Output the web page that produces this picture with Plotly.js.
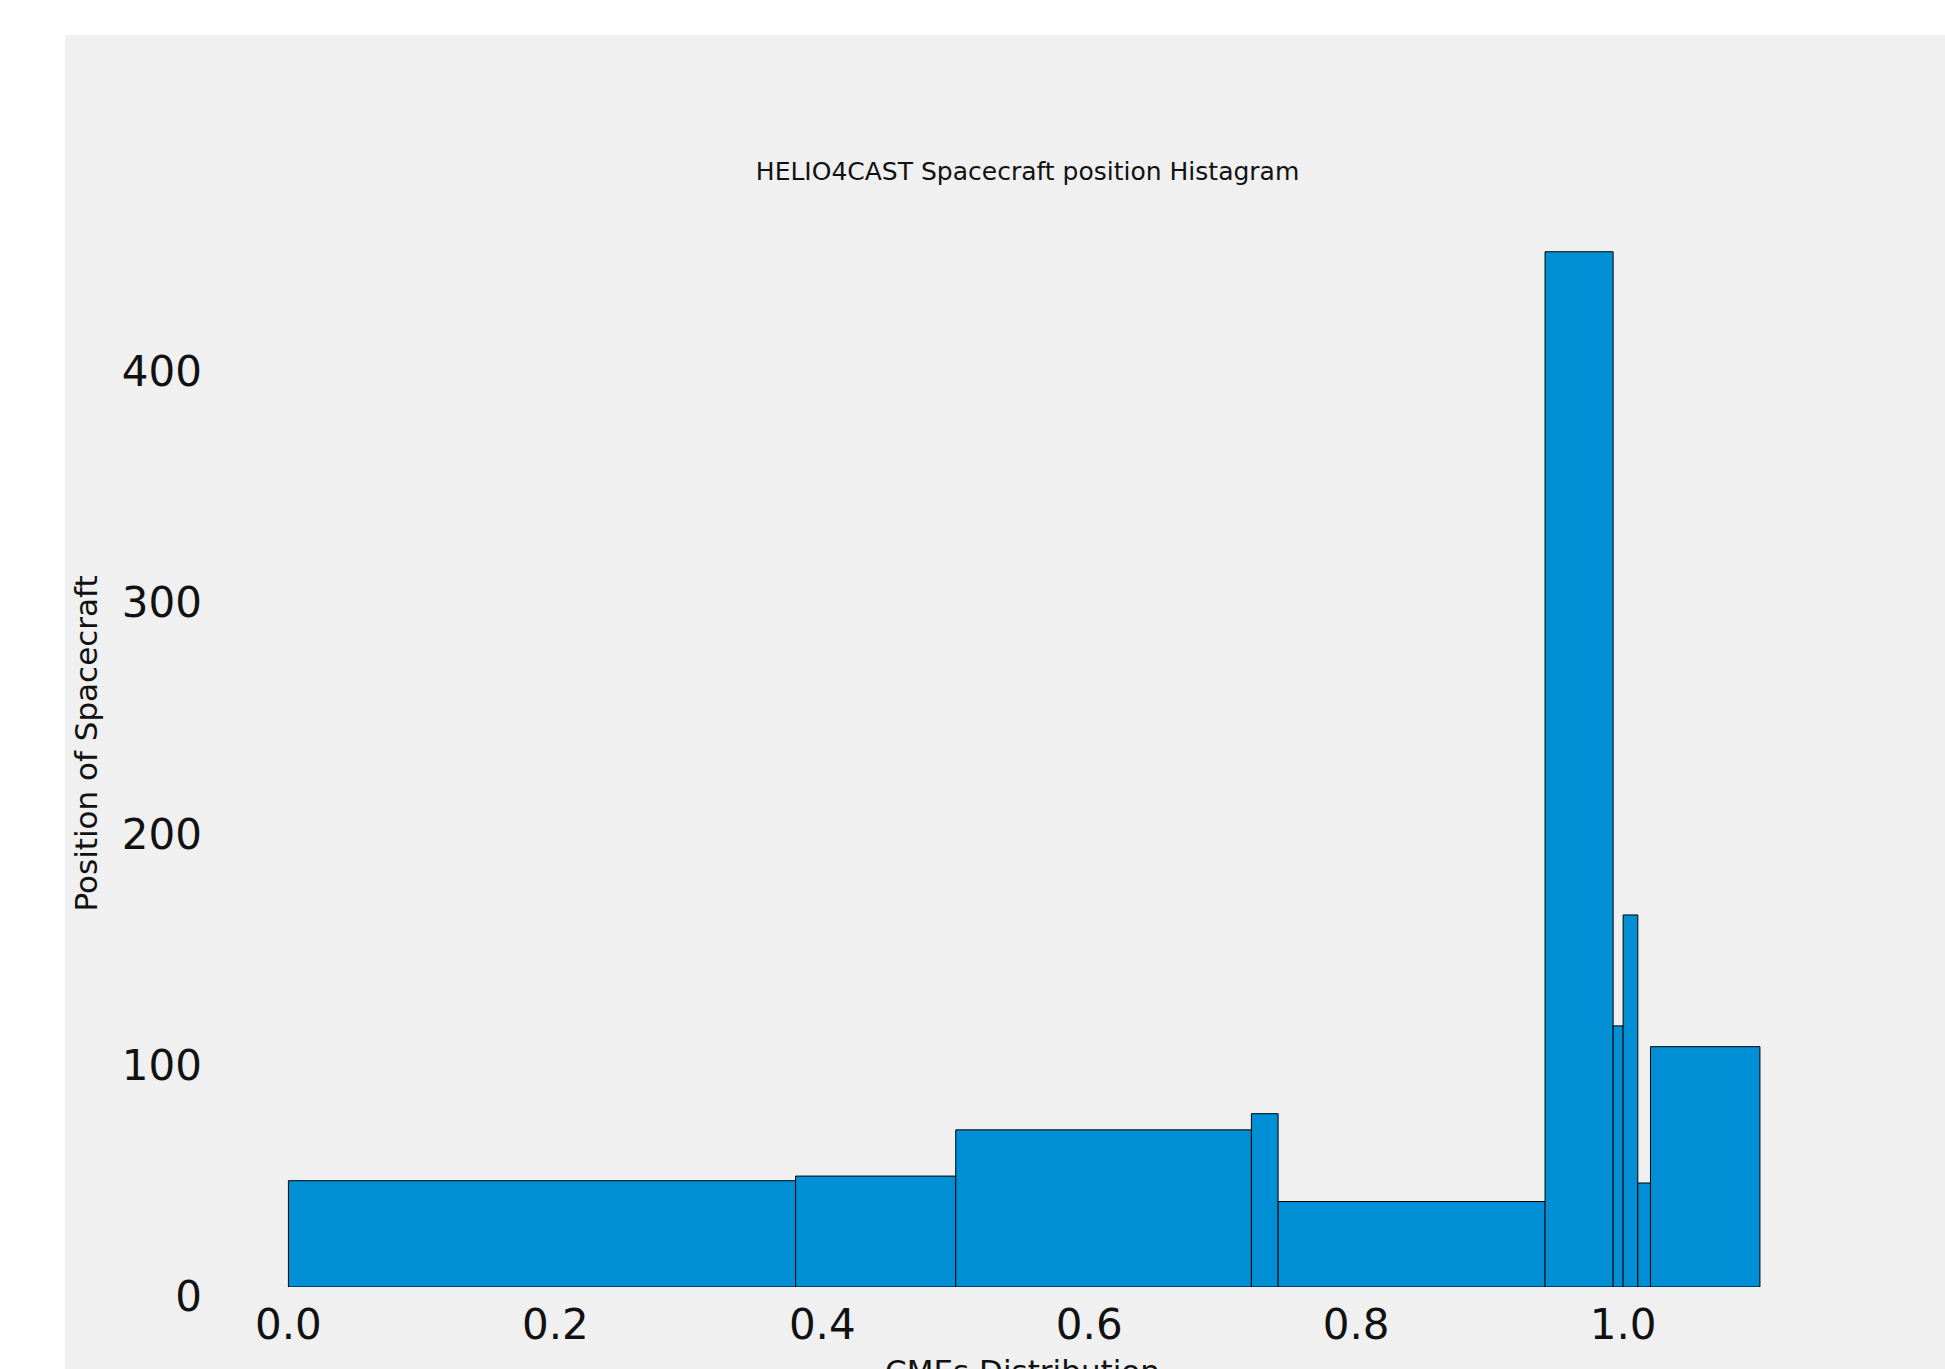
<!DOCTYPE html>
<html>
<head>
<meta charset="utf-8">
<script src="https://cdn.plot.ly/plotly-3.0.1.min.js"></script>
<style>
  html, body { margin: 0; padding: 0; background: #ffffff; overflow: hidden; width: 1945px; height: 1369px; }
  #chart { position: absolute; left: 65px; top: 35px; width: 1880px; height: 1400px; }
</style>
</head>
<body>
<div id="chart"></div>
<script>
// Histogram bin edges (CMEs distribution) and counts per bin
const binEdges = [0, 0.38, 0.5, 0.7215, 0.7415, 0.9415, 0.9925, 1.0, 1.011, 1.0205, 1.1025];
const binCounts = [46, 48, 68, 75, 37, 448, 113, 161, 45, 104];
const xTickVals = [0.0, 0.2, 0.4, 0.6, 0.8, 1.0];
const yTickVals = [0, 100, 200, 300, 400];

const centers = binCounts.map((_, i) => (binEdges[i] + binEdges[i + 1]) / 2);
const widths = binCounts.map((_, i) => binEdges[i + 1] - binEdges[i]);

const trace = {
  type: 'bar',
  x: centers,
  y: binCounts,
  width: widths,
  marker: { color: '#008fd5', line: { color: '#000000', width: 1 } },
  hoverinfo: 'x+y'
};

const layout = {
  width: 1880,
  height: 1400,
  paper_bgcolor: '#f0f0f0',
  plot_bgcolor: '#f0f0f0',
  margin: { l: 150, r: 115, t: 165, b: 148, pad: 0 },
  showlegend: false,
  font: { family: 'DejaVu Sans', color: '#000000' },
  title: {
    text: 'HELIO4CAST Spacecraft position Histagram',
    font: { family: 'DejaVu Sans', size: 25, color: '#111111' },
    xref: 'container', x: 0.512, xanchor: 'center',
    yref: 'container', y: 0.903, yanchor: 'middle'
  },
  xaxis: {
    range: [-0.055, 1.155],
    tickvals: xTickVals,
    tickformat: '.1f',
    showgrid: false, zeroline: false, showline: false,
    ticks: '',
    ticklabelstandoff: 9,
    tickfont: { family: 'DejaVu Sans', size: 42, color: '#111111' },
    title: { text: 'CMEs Distribution', font: { family: 'DejaVu Sans', size: 31, color: '#111111' }, standoff: 12 }
  },
  yaxis: {
    range: [0, 470.4],
    tickvals: yTickVals,
    showgrid: false, zeroline: false, showline: false,
    ticks: '',
    ticklabelstandoff: 12,
    ticklabelshift: 9,
    tickfont: { family: 'DejaVu Sans', size: 42, color: '#111111' },
    title: { text: 'Position of Spacecraft', font: { family: 'DejaVu Sans', size: 31, color: '#111111' }, standoff: 14 }
  },
  bargap: 0
};

Plotly.newPlot('chart', [trace], layout, { staticPlot: true, displayModeBar: false });
</script>
</body>
</html>
